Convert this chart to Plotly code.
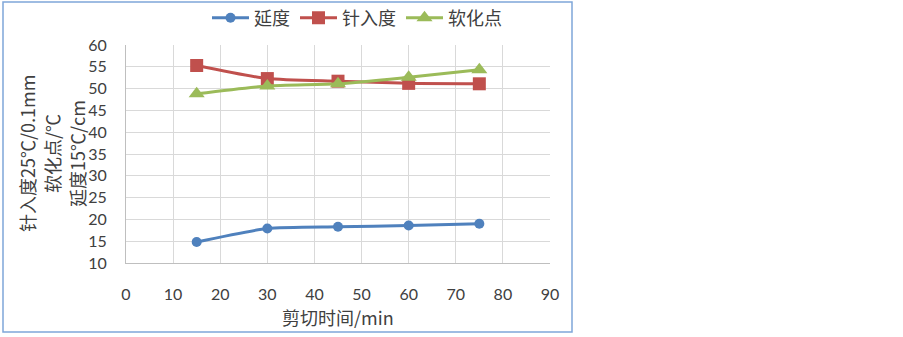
import plotly.graph_objects as go

x_time = [15, 30, 45, 60, 75]
ductility = [14.8, 17.9, 18.3, 18.6, 19.0]
penetration = [55.3, 52.3, 51.7, 51.2, 51.1]
softening = [48.8, 50.6, 51.1, 52.6, 54.3]

series_names = ["延度", "针入度", "软化点"]
y_title_lines = ["针入度25℃/0.1mm", "软化点/℃", "延度15℃/cm"]
x_title = "剪切时间/min"

cjk = "Noto Sans CJK SC"
num_font = "Lato"

fig = go.Figure()
fig.add_trace(go.Scatter(x=x_time, y=ductility, name=series_names[0], mode="lines+markers",
                         line=dict(color="#4F81BD", width=3, shape="spline", smoothing=0.6),
                         marker=dict(symbol="circle", size=10, color="#4F81BD")))
fig.add_trace(go.Scatter(x=x_time, y=penetration, name=series_names[1], mode="lines+markers",
                         line=dict(color="#C0504D", width=3, shape="spline", smoothing=0.6),
                         marker=dict(symbol="square", size=13, color="#C0504D")))
fig.add_trace(go.Scatter(x=x_time, y=softening, name=series_names[2], mode="lines+markers",
                         line=dict(color="#9BBB59", width=3, shape="spline", smoothing=0.6),
                         marker=dict(symbol="triangle-up", size=14, color="#9BBB59")))

L, R, T, B = 126, 550, 45, 263
W, H = 903, 337
pw, ph = R - L, B - T

def px(p):
    return (p - L) / pw

def py(q):
    return (B - q) / ph

fig.update_layout(
    width=W, height=H,
    margin=dict(l=L, r=W - R, t=T, b=H - B, autoexpand=False),
    paper_bgcolor="white", plot_bgcolor="white",
    font=dict(family=cjk, size=16, color="#404040"),
    showlegend=True,
    legend=dict(orientation="h", x=px(207), xanchor="left", y=py(18), yanchor="middle",
                font=dict(family=cjk, size=18, color="#404040"), itemwidth=37,
                bgcolor="rgba(0,0,0,0)"),
    xaxis=dict(range=[0, 90], dtick=10, tick0=0, showgrid=True, gridcolor="#D9D9D9", gridwidth=1,
               zeroline=False, showline=True, linecolor="#BFBFBF", linewidth=1,
               ticks="", ticklabelstandoff=17,
               tickfont=dict(family=num_font, size=16, color="#404040")),
    yaxis=dict(range=[10, 60], dtick=5, tick0=10, showgrid=True, gridcolor="#D9D9D9", gridwidth=1,
               zeroline=False, showline=True, linecolor="#BFBFBF", linewidth=1,
               ticks="", ticklabelstandoff=15,
               tickfont=dict(family=num_font, size=16, color="#404040")),
    shapes=[dict(type="rect", xref="paper", yref="paper",
                 x0=px(3), x1=px(572), y0=py(332), y1=py(2),
                 line=dict(color="#7FA6D9", width=1.5), fillcolor="rgba(0,0,0,0)", layer="below")],
)

for xp, txt in zip([27, 52, 77], y_title_lines):
    fig.add_annotation(text=txt, xref="paper", yref="paper", x=px(xp), y=py(154),
                       xanchor="center", yanchor="middle", textangle=-90, showarrow=False,
                       font=dict(family=cjk, size=18, color="#404040"))

fig.add_annotation(text=x_title, xref="paper", yref="paper", x=px(338), y=py(317),
                   xanchor="center", yanchor="middle", showarrow=False,
                   font=dict(family=cjk, size=18, color="#404040"))

fig.write_html("out.html", config={"displayModeBar": False},
               post_script="document.body.style.margin='0';document.body.style.padding='0';")
